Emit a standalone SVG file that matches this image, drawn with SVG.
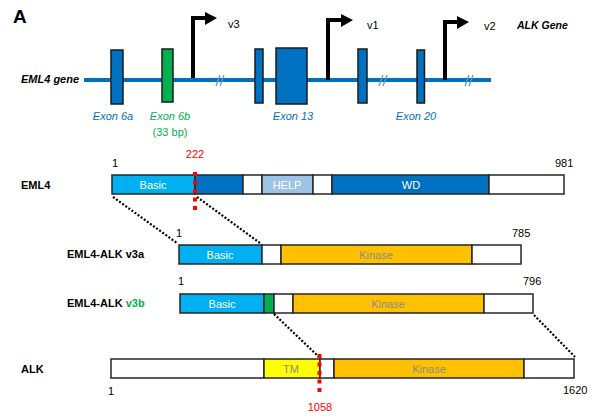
<svg xmlns="http://www.w3.org/2000/svg" width="593" height="416" viewBox="0 0 593 416">
<defs>
<style>
text{font-family:"Liberation Sans",Arial,sans-serif;font-size:11px;fill:#000}
.b{font-weight:bold}
.bi{font-weight:bold;font-style:italic}
.ex{font-style:italic;fill:#0070C0;text-anchor:middle}
.g{fill:#00B050}
.w{fill:#fff;text-anchor:middle}
.gr{fill:#8C8C8C;text-anchor:middle}
.red{fill:#FF0000;text-anchor:middle}
.exon{fill:#0070C0;stroke:#1a1a1a;stroke-width:1.5}
.seg{stroke:#262626;stroke-width:1.5}
.arr{fill:none;stroke:#000;stroke-width:4}
.brk{stroke:#5B9BD5;stroke-width:1.3}
.dot{fill:none;stroke:#000;stroke-width:2.2;stroke-dasharray:2 1.8}
.rd{fill:none;stroke:#FF0000;stroke-width:4;stroke-dasharray:4 4.5}
</style>
</defs>
<text x="13" y="23" class="b" style="font-size:19px">A</text>
<g id="gene">
<line x1="84" y1="80" x2="491" y2="80" stroke="#0070C0" stroke-width="4"/>
<text x="21" y="83" class="bi">EML4 gene</text>
<text x="517" y="29" class="bi" style="font-size:10.5px">ALK Gene</text>
</g>
<g id="breaks">
<line x1="216" y1="86" x2="220" y2="75" class="brk"/><line x1="220" y1="86" x2="224" y2="75" class="brk"/>
<line x1="379" y1="86" x2="383" y2="75" class="brk"/><line x1="383" y1="86" x2="387" y2="75" class="brk"/>
<line x1="465" y1="86" x2="469" y2="75" class="brk"/><line x1="469" y1="86" x2="473" y2="75" class="brk"/>
</g>
<g id="exon6a"><rect x="111" y="50" width="12" height="54" class="exon"/><text x="113" y="120" class="ex">Exon 6a</text></g>
<g id="exon6b"><rect x="162" y="49" width="11" height="53" class="exon" style="fill:#00B050"/><text x="170" y="120" class="ex g">Exon 6b</text><text x="170" y="136" class="g" text-anchor="middle">(33 bp)</text></g>
<g id="exon12"><rect x="255" y="49" width="8" height="54" class="exon"/></g>
<g id="exon13"><rect x="276" y="48" width="31" height="56" class="exon"/><text x="293" y="120" class="ex">Exon 13</text></g>
<g id="exon14"><rect x="358" y="49" width="9" height="54" class="exon"/></g>
<g id="exon20"><rect x="417" y="50" width="7.5" height="53" class="exon"/><text x="416" y="120" class="ex">Exon 20</text></g>
<g id="v3"><polyline points="193,78 193,18 206,18" class="arr"/><polygon points="205,12 217,18 205,25" fill="#000"/><text x="228" y="28">v3</text></g>
<g id="v1"><polyline points="328,80 328,20 342,20" class="arr"/><polygon points="341,14 353,20 341,27" fill="#000"/><text x="367" y="29">v1</text></g>
<g id="v2"><polyline points="445,80 445,22 458,22" class="arr"/><polygon points="457,16 469,22 457,29" fill="#000"/><text x="484" y="30">v2</text></g>

<g id="eml4">
<text x="21" y="189" class="b">EML4</text>
<rect x="112" y="175" width="83" height="19" fill="#00B0F0" class="seg"/>
<rect x="195" y="175" width="48" height="19" fill="#0070C0" class="seg"/>
<rect x="243" y="175" width="19" height="19" fill="#fff" class="seg"/>
<rect x="262" y="175" width="51" height="19" fill="#9DC3E6" class="seg"/>
<rect x="313" y="175" width="19" height="19" fill="#fff" class="seg"/>
<rect x="332" y="175" width="157" height="19" fill="#0070C0" class="seg"/>
<rect x="489" y="175" width="75" height="19" fill="#fff" class="seg"/>
<text x="153" y="189" class="w">Basic</text>
<text x="287" y="189" class="w">HELP</text>
<text x="411" y="189" class="w">WD</text>
<text x="112" y="167">1</text>
<text x="555" y="167">981</text>
<text x="195" y="158" class="red">222</text>
</g>
<g id="v3a">
<text x="67" y="258" class="b">EML4-ALK v3a</text>
<rect x="179" y="245" width="83" height="19" fill="#00B0F0" class="seg"/>
<rect x="262" y="245" width="19" height="19" fill="#fff" class="seg"/>
<rect x="281" y="245" width="191" height="19" fill="#FFC000" class="seg"/>
<rect x="472" y="245" width="49" height="19" fill="#fff" class="seg"/>
<text x="220" y="259" class="w">Basic</text>
<text x="376" y="259" class="gr">Kinase</text>
<text x="176" y="237">1</text>
<text x="512" y="237">785</text>
</g>
<g id="v3b">
<text x="67" y="307" class="b">EML4-ALK <tspan class="g">v3b</tspan></text>
<rect x="180" y="294" width="84" height="19" fill="#00B0F0" class="seg"/>
<rect x="264" y="294" width="10" height="19" fill="#00B050" class="seg"/>
<rect x="274" y="294" width="19" height="19" fill="#fff" class="seg"/>
<rect x="293" y="294" width="191" height="19" fill="#FFC000" class="seg"/>
<rect x="484" y="294" width="49" height="19" fill="#fff" class="seg"/>
<text x="222" y="308" class="w">Basic</text>
<text x="388" y="308" class="gr">Kinase</text>
<text x="178" y="285">1</text>
<text x="523" y="285">796</text>
</g>
<g id="alk">
<text x="21" y="373" class="b">ALK</text>
<rect x="111" y="359" width="153" height="19" fill="#fff" class="seg"/>
<rect x="264" y="359" width="56" height="19" fill="#FFFF00" class="seg"/>
<rect x="320" y="359" width="14" height="19" fill="#fff" class="seg"/>
<rect x="334" y="359" width="190" height="19" fill="#FFC000" class="seg"/>
<rect x="524" y="359" width="50" height="19" fill="#fff" class="seg"/>
<text x="291" y="373" class="gr">TM</text>
<text x="429" y="373" class="gr">Kinase</text>
<text x="108" y="395">1</text>
<text x="563" y="394">1620</text>
<text x="320" y="411" class="red">1058</text>
</g>
<g id="connectors">
<line x1="113" y1="197" x2="177" y2="243" class="dot"/>
<line x1="197" y1="197" x2="260" y2="243" class="dot"/>
<line x1="274" y1="314" x2="319" y2="357" class="dot"/>
<line x1="534" y1="315" x2="575" y2="357" class="dot"/>
<line x1="195" y1="172" x2="195" y2="210" class="rd"/>
<line x1="319.5" y1="354" x2="319.5" y2="392" class="rd"/>
</g>
</svg>
